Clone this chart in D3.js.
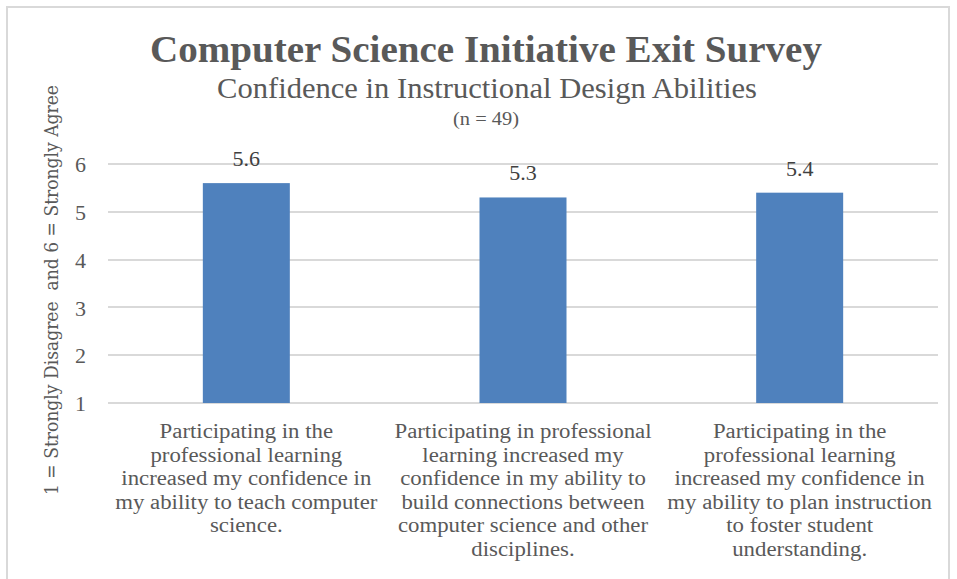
<!DOCTYPE html>
<html>
<head>
<meta charset="UTF-8">
<title>Computer Science Initiative Exit Survey</title>
<script src="https://d3js.org/d3.v7.min.js"></script>
<style>
body { margin: 0; background: #fff; }
svg { font-family: "Liberation Serif", serif; }
</style>
</head>
<body>
<svg width="957" height="579"></svg>
<script>
// chart data
var categories = ["c1", "c2", "c3"];
var values = [5.6, 5.3, 5.4];
var categoryLabels = [
  ["Participating in the", "professional learning", "increased my confidence in", "my ability to teach computer", "science."],
  ["Participating in professional", "learning increased my", "confidence in my ability to", "build connections between", "computer science and other", "disciplines."],
  ["Participating in the", "professional learning", "increased my confidence in", "my ability to plan instruction", "to foster student", "understanding."]
];
var yTicks = [1, 2, 3, 4, 5, 6];

var textColor = "#595959";
var svg = d3.select("svg");

// stretch a text element horizontally to mimic the wider original face
function stretch(sel, k) {
  sel.each(function() {
    var w = this.getComputedTextLength();
    d3.select(this).attr("textLength", w * k).attr("lengthAdjust", "spacingAndGlyphs");
  });
}

// chart frame
svg.append("rect")
    .attr("x", 7).attr("y", 7)
    .attr("width", 942).attr("height", 600)
    .attr("fill", "none").attr("stroke", "#d9d9d9").attr("stroke-width", 2);

var plot = {top: 164, left: 108, right: 938, bottom: 403};

var x = d3.scaleBand()
    .domain(categories)
    .range([plot.left, plot.right])
    .paddingInner(0).paddingOuter(0);

var y = d3.scaleLinear()
    .domain([1, 6])
    .range([plot.bottom, plot.top]);

// gridlines
svg.append("g")
  .selectAll("line")
  .data(yTicks)
  .enter().append("line")
    .attr("x1", plot.left).attr("x2", plot.right)
    .attr("y1", function(d) { return Math.round(y(d)); })
    .attr("y2", function(d) { return Math.round(y(d)); })
    .attr("stroke", "#d9d9d9").attr("stroke-width", 2);

// y axis labels
var yAxis = svg.append("g")
    .attr("transform", "translate(" + (plot.left - 22) + ",0)")
    .call(d3.axisLeft(y).tickValues(yTicks).tickSize(0).tickPadding(0).tickFormat(d3.format("d")));
yAxis.select(".domain").remove();
yAxis.selectAll("text")
    .attr("fill", textColor)
    .style("font-family", "Liberation Serif")
    .style("font-size", "22px")
    .attr("dy", "0.35em");

// bars
var barW = 87;
svg.selectAll(".bar")
    .data(values)
  .enter().append("rect")
    .attr("class", "bar")
    .attr("x", function(d, i) { return x(categories[i]) + x.bandwidth() / 2 - barW / 2; })
    .attr("y", function(d) { return y(d); })
    .attr("width", barW)
    .attr("height", function(d) { return y(1) - y(d); })
    .attr("fill", "#4f81bd");

// value labels
svg.selectAll(".val")
    .data(values)
  .enter().append("text")
    .attr("class", "val")
    .attr("x", function(d, i) { return x(categories[i]) + x.bandwidth() / 2; })
    .attr("y", function(d) { return y(d) - 17; })
    .attr("text-anchor", "middle")
    .attr("fill", "#404040")
    .style("font-size", "22px")
    .text(function(d) { return d3.format(".1f")(d); });

// category labels
categoryLabels.forEach(function(lines, i) {
  lines.forEach(function(line, j) {
    svg.append("text")
      .attr("class", "cat")
      .attr("x", x(categories[i]) + x.bandwidth() / 2)
      .attr("y", 438 + j * 23.5)
      .attr("text-anchor", "middle")
      .attr("fill", textColor)
      .style("font-size", "20px")
      .text(line);
  });
});
stretch(svg.selectAll(".cat"), 1.14);

// titles
svg.append("text")
    .attr("x", 486).attr("y", 62)
    .attr("text-anchor", "middle")
    .attr("fill", textColor)
    .style("font-size", "37px").style("font-weight", "bold")
    .attr("textLength", 672).attr("lengthAdjust", "spacingAndGlyphs")
    .text("Computer Science Initiative Exit Survey");

svg.append("text")
    .attr("x", 487).attr("y", 98)
    .attr("text-anchor", "middle")
    .attr("fill", textColor)
    .style("font-size", "29px")
    .attr("textLength", 540).attr("lengthAdjust", "spacingAndGlyphs")
    .text("Confidence in Instructional Design Abilities");

svg.append("text")
    .attr("x", 486).attr("y", 125)
    .attr("text-anchor", "middle")
    .attr("fill", textColor)
    .style("font-size", "18px")
    .attr("textLength", 66).attr("lengthAdjust", "spacingAndGlyphs")
    .text("(n = 49)");

// y axis title
svg.append("text")
    .attr("transform", "translate(58,290) rotate(-90)")
    .attr("text-anchor", "middle")
    .attr("fill", textColor)
    .style("font-family", "DejaVu Serif")
    .style("font-size", "18px")
    .style("white-space", "pre")
    .attr("textLength", 410).attr("lengthAdjust", "spacingAndGlyphs")
    .text("1 = Strongly Disagree  and 6 = Strongly Agree");
</script>
</body>
</html>
